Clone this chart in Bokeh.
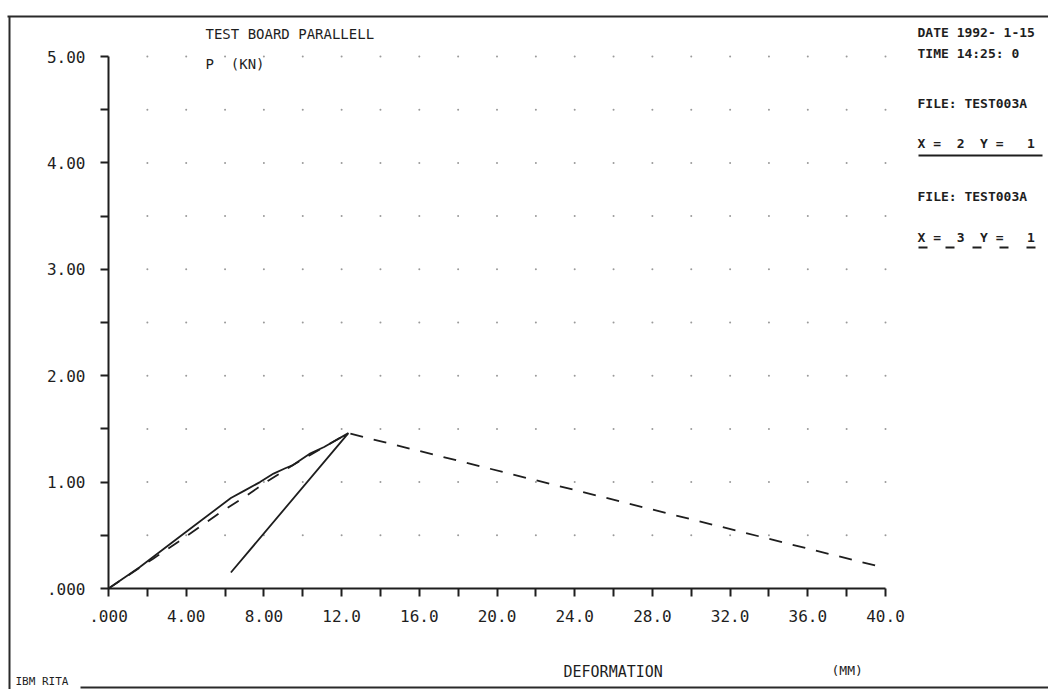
from bokeh.plotting import figure
from bokeh.models import Range1d, LinearAxis, FixedTicker
from bokeh.core.properties import value
from bokeh.embed import file_html
from bokeh.resources import INLINE
import numpy as np

# ---- data -------------------------------------------------------------
# channel X=2 / Y=1 : loading branch then unloading branch (solid)
solid_x = [0.0, 1.6, 3.9, 6.3, 7.0, 7.8, 8.5, 9.1, 9.5, 10.4, 11.1, 12.35, 6.3]
solid_y = [0.0, 0.20, 0.52, 0.85, 0.92, 1.00, 1.08, 1.13, 1.16, 1.27, 1.33, 1.46, 0.15]
# channel X=3 / Y=1 (dashed)
dash_x = [0.0, 2.3, 3.6, 5.8, 7.0, 8.2, 9.5, 11.0, 12.35, 39.6]
dash_y = [0.0, 0.28, 0.44, 0.72, 0.86, 1.01, 1.16, 1.32, 1.46, 0.21]

x_ticks = [0, 4, 8, 12, 16, 20, 24, 28, 32, 36, 40]
x_tick_labels = [".000", "4.00", "8.00", "12.0", "16.0", "20.0", "24.0", "28.0", "32.0", "36.0", "40.0"]
x_minor = [2, 6, 10, 14, 18, 22, 26, 30, 34, 38]
y_ticks = [0, 1, 2, 3, 4, 5]
y_tick_labels = [".000", "1.00", "2.00", "3.00", "4.00", "5.00"]
y_minor = [0.5, 1.5, 2.5, 3.5, 4.5]

# ---- page geometry (pixels) ------------------------------------------
W, H = 1048, 689
PX_X0, PX_X40 = 108, 885     # x = 0 and x = 40
PX_Y0, PX_Y5 = 588, 56       # y = 0 and y = 5
sx = (PX_X40 - PX_X0) / 40.0
sy = (PX_Y0 - PX_Y5) / 5.0

def dx(px):
    return (px - PX_X0) / sx

def dy(py):
    return (PX_Y0 - py) / sy

FONT = "DejaVu Sans Mono"
INK = "#1e1e1e"
NB = "\u00a0"  # keeps the plotter's wide spacing in SVG text

p = figure(width=W, height=H,
           x_range=Range1d(dx(0), dx(W)), y_range=Range1d(dy(H), dy(0)),
           x_axis_type=None, y_axis_type=None,
           min_border=0, toolbar_location=None, output_backend="svg")
p.outline_line_color = None
p.background_fill_color = "white"
p.border_fill_color = "white"

# axes drawn at the data origin
yaxis = LinearAxis(fixed_location=0, bounds=(0, 5),
                   ticker=FixedTicker(ticks=y_ticks, minor_ticks=y_minor),
                   major_label_overrides={float(t): l for t, l in zip(y_ticks, y_tick_labels)},
                   major_tick_in=0, major_tick_out=8, minor_tick_in=0, minor_tick_out=8,
                   axis_line_width=2, major_tick_line_width=2, minor_tick_line_width=2,
                   axis_line_color=INK, major_tick_line_color=INK, minor_tick_line_color=INK,
                   major_label_standoff=15,
                   major_label_text_font=FONT, major_label_text_font_size="16px",
                   major_label_text_color=INK)
p.add_layout(yaxis, "left")

xaxis = LinearAxis(fixed_location=0, bounds=(0, 40),
                   ticker=FixedTicker(ticks=x_ticks, minor_ticks=x_minor),
                   major_label_overrides={float(t): l for t, l in zip(x_ticks, x_tick_labels)},
                   major_tick_in=0, major_tick_out=8, minor_tick_in=0, minor_tick_out=8,
                   axis_line_width=2, major_tick_line_width=2, minor_tick_line_width=2,
                   axis_line_color=INK, major_tick_line_color=INK, minor_tick_line_color=INK,
                   major_label_standoff=13,
                   major_label_text_font=FONT, major_label_text_font_size="16px",
                   major_label_text_color=INK)
p.add_layout(xaxis, "below")

# dotted grid
gx, gy = np.meshgrid(np.arange(2, 41, 2), np.arange(0.5, 5.01, 0.5))
p.scatter(gx.ravel(), gy.ravel(), size=2.0, color="#9a9a9a", line_color=None)

# curves
p.line(solid_x, solid_y, line_color=INK, line_width=1.8)
p.line(dash_x, dash_y, line_color=INK, line_width=1.8, line_dash="13 11")

# page frame
p.segment(x0=[dx(7), dx(9), dx(80)], y0=[dy(16), dy(16), dy(687)],
          x1=[dx(W), dx(9), dx(W)], y1=[dy(16), dy(H), dy(687)],
          line_color="#2a2a2a", line_width=2)

def txt(px, py, s, size, bold=False, baseline="middle"):
    p.text(x=[dx(px)], y=[dy(py)], text=[s], text_font=value(FONT),
           text_font_size=size, text_baseline=baseline, text_align="left",
           text_color=INK, text_font_style="bold" if bold else "normal")

txt(205, 33, "TEST BOARD PARALLELL", "14px")
txt(205, 63, "P" + NB * 2 + "(KN)", "14px")
txt(563, 671, "DEFORMATION", "15px")
txt(831, 670, "(MM)", "13px")
txt(15, 674, "IBM RITA", "11px", baseline="top")

# header / legend block
txt(917, 32, "DATE 1992- 1-15", "13px", bold=True)
txt(917, 53, "TIME 14:25:" + NB + "0", "13px", bold=True)
txt(917, 103, "FILE: TEST003A", "13px", bold=True)
txt(917, 143, "X" + NB + "=" + NB * 2 + "2" + NB * 2 + "Y" + NB + "=" + NB * 3 + "1", "13px", bold=True)
p.line([dx(918), dx(1042)], [dy(155), dy(155)], line_color=INK, line_width=1.8)
txt(917, 196, "FILE: TEST003A", "13px", bold=True)
txt(917, 237, "X" + NB + "=" + NB * 2 + "3" + NB * 2 + "Y" + NB + "=" + NB * 3 + "1", "13px", bold=True)
p.line([dx(918), dx(1040)], [dy(247), dy(247)], line_color=INK, line_width=1.8,
       line_dash="9 18")

open("out.html", "w").write(file_html(p, INLINE))
